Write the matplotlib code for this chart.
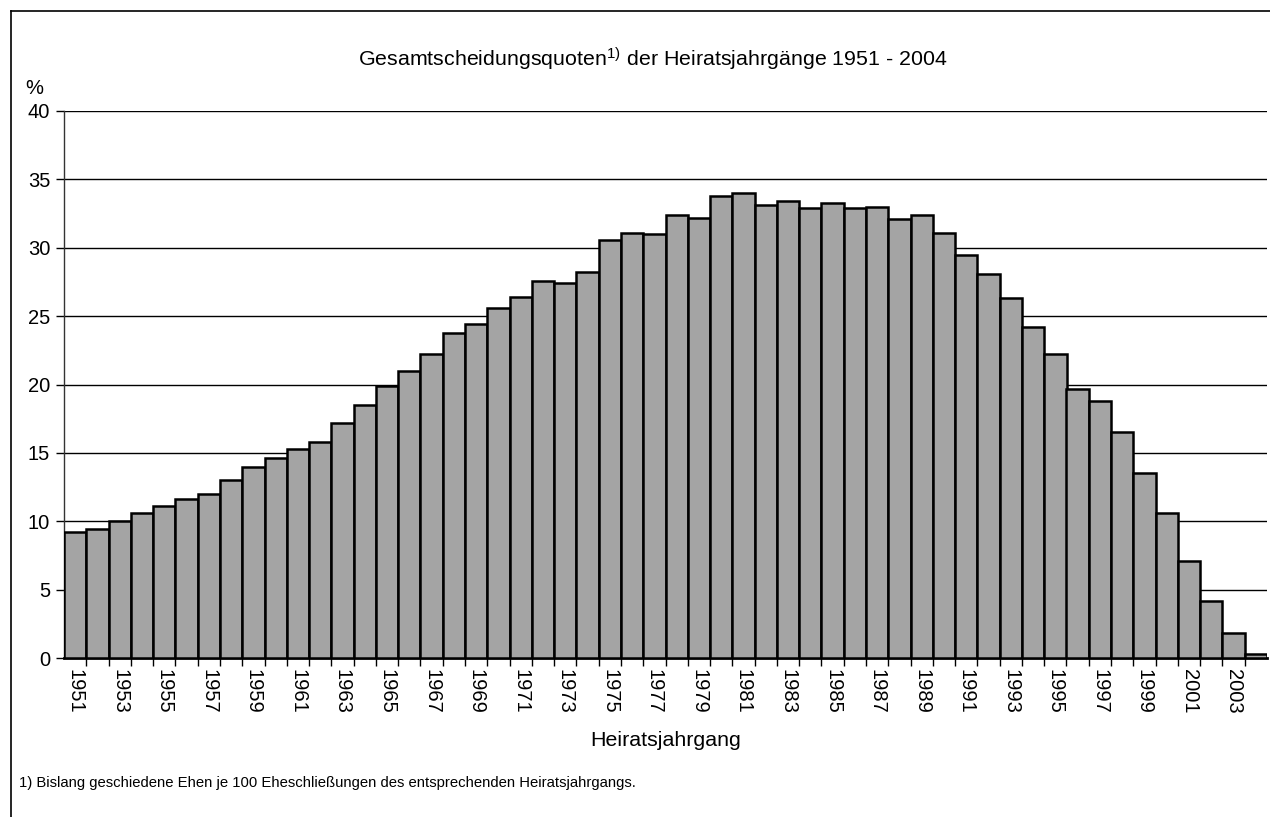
import matplotlib
matplotlib.use("Agg")
import matplotlib.pyplot as plt
import numpy as np

plt.rcParams["font.family"] = ["Liberation Sans", "DejaVu Sans"]
plt.rcParams["mathtext.default"] = "regular"

# Heiratsjahrgaenge 1951 - 2004
years = list(range(1951, 2005))
quote = [9.2, 9.4, 10.0, 10.6, 11.1, 11.6, 12.0, 13.0, 14.0, 14.6,
         15.3, 15.8, 17.2, 18.5, 19.9, 21.0, 22.2, 23.8, 24.4, 25.6,
         26.4, 27.6, 27.4, 28.2, 30.6, 31.1, 31.0, 32.4, 32.2, 33.8,
         34.0, 33.1, 33.4, 32.9, 33.3, 32.9, 33.0, 32.1, 32.4, 31.1,
         29.5, 28.1, 26.3, 24.2, 22.2, 19.7, 18.8, 16.5, 13.5, 10.6,
         7.1, 4.2, 1.8, 0.3]
yticks = [0, 5, 10, 15, 20, 25, 30, 35, 40]

fig = plt.figure(figsize=(12.7, 8.17), dpi=100)
ax = fig.add_axes([64 / 1270, 159 / 817, 1203 / 1270, 547 / 817])

x = np.arange(len(years))
ax.bar(x, quote, width=1.0, color="#a4a4a4", edgecolor="black",
       linewidth=1.8, zorder=3)

ax.set_xlim(-0.5, len(years) - 0.5)
ax.set_ylim(0, 40)
ax.set_yticks(yticks)
ax.set_yticklabels([str(v) for v in yticks], fontsize=14.5)
ax.yaxis.grid(True, color="black", linewidth=1.0, zorder=0)
ax.set_axisbelow(True)

# tick marks between bars, labels on every second year
ax.set_xticks(x[:-1] + 0.5, minor=False)
ax.set_xticklabels([])
ax.set_xticks(x[::2], minor=True)
ax.set_xticklabels([str(y) for y in years[::2]], minor=True,
                   rotation=270, fontsize=14.5)
ax.tick_params(axis="x", which="minor", length=0, pad=8)
ax.tick_params(axis="x", which="major", length=6, width=1, direction="out")
ax.tick_params(axis="y", length=6, width=1, direction="out", pad=4)

for s in ["top", "right"]:
    ax.spines[s].set_visible(False)
ax.spines["left"].set_linewidth(1.0)
ax.spines["left"].set_color("#333333")
ax.spines["bottom"].set_linewidth(2.0)

ax.set_xlabel("Heiratsjahrgang", fontsize=15.4, labelpad=12)

fig.text(653 / 1270, 1 - 59 / 817,
         "Gesamtscheidungsquoten$^{1)}$ der Heiratsjahrgänge 1951 - 2004",
         ha="center", va="center", fontsize=15.4)
fig.text(34 / 1270, 1 - 88 / 817, "%", ha="center", va="center", fontsize=14.5)
fig.text(19 / 1270, 1 - 783 / 817,
         "1) Bislang geschiedene Ehen je 100 Eheschließungen des entsprechenden Heiratsjahrgangs.",
         ha="left", va="center", fontsize=10.7)

# outer frame
fig.add_artist(plt.Line2D([11 / 1270, 1], [1 - 11 / 817, 1 - 11 / 817],
                          color="black", linewidth=1.2, transform=fig.transFigure))
fig.add_artist(plt.Line2D([11 / 1270, 11 / 1270], [0, 1 - 11 / 817],
                          color="black", linewidth=1.2, transform=fig.transFigure))

fig.savefig("out.png", dpi=100)
